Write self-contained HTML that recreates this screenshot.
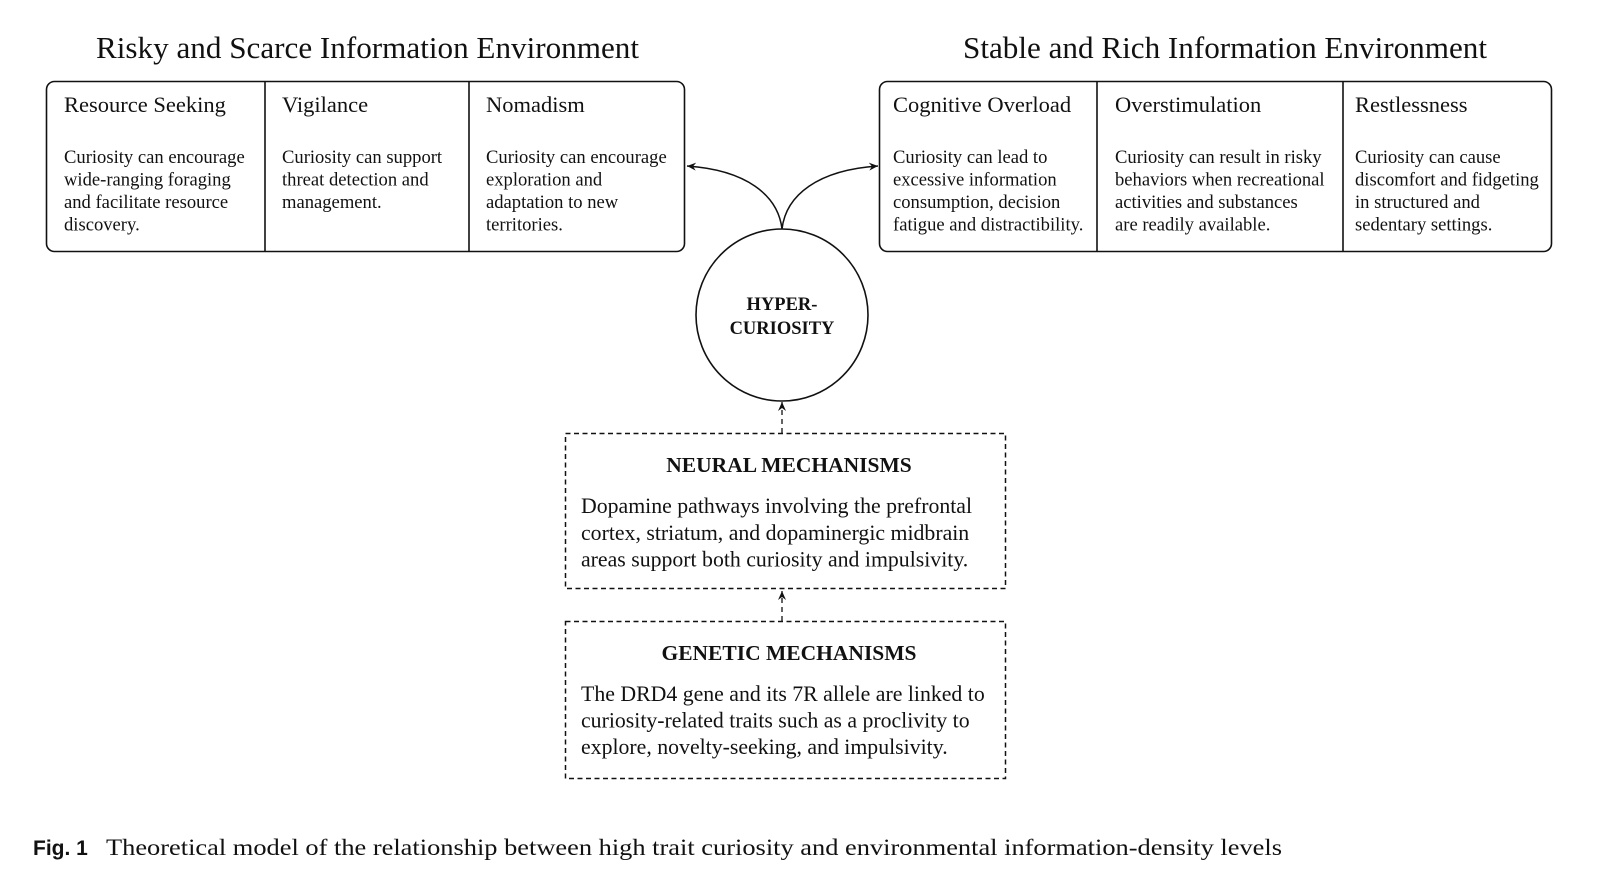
<!DOCTYPE html>
<html><head><meta charset="utf-8"><style>
html,body{margin:0;padding:0;background:#fff;}
svg{display:block;}
text{font-family:"Liberation Serif",serif;fill:#111;}
.h{font-size:22.5px;}
.b{font-size:18.6px;}
.t{font-size:31px;}
.m{font-size:21.8px;}
.mb{font-size:21.5px;font-weight:bold;}
</style></head><body>
<svg width="1600" height="886" viewBox="0 0 1600 886" xmlns="http://www.w3.org/2000/svg">
<defs>
<marker id="ar" markerWidth="10" markerHeight="10" refX="9" refY="5" orient="auto" markerUnits="userSpaceOnUse">
<path d="M0,1 L9,5 L0,9 L3,5 Z" fill="#111"/>
</marker>
</defs>
<text class="t" x="96" y="58" textLength="543" lengthAdjust="spacingAndGlyphs">Risky and Scarce Information Environment</text>
<text class="t" x="963" y="58" textLength="524" lengthAdjust="spacingAndGlyphs">Stable and Rich Information Environment</text>

<rect x="46.5" y="81.5" width="638" height="170" rx="8" fill="none" stroke="#111" stroke-width="1.6"/>
<line x1="265" y1="81" x2="265" y2="252" stroke="#111" stroke-width="1.6"/>
<line x1="469" y1="81" x2="469" y2="252" stroke="#111" stroke-width="1.6"/>
<text class="h" x="64" y="112">Resource Seeking</text>
<text class="h" x="282" y="112">Vigilance</text>
<text class="h" x="486" y="112">Nomadism</text>
<text class="b" x="64" y="163">Curiosity can encourage</text>
<text class="b" x="64" y="185.5">wide-ranging foraging</text>
<text class="b" x="64" y="208">and facilitate resource</text>
<text class="b" x="64" y="230.5">discovery.</text>
<text class="b" x="282" y="163">Curiosity can support</text>
<text class="b" x="282" y="185.5">threat detection and</text>
<text class="b" x="282" y="208">management.</text>
<text class="b" x="486" y="163">Curiosity can encourage</text>
<text class="b" x="486" y="185.5">exploration and</text>
<text class="b" x="486" y="208">adaptation to new</text>
<text class="b" x="486" y="230.5">territories.</text>

<rect x="879.5" y="81.5" width="672" height="170" rx="8" fill="none" stroke="#111" stroke-width="1.6"/>
<line x1="1097" y1="81" x2="1097" y2="252" stroke="#111" stroke-width="1.6"/>
<line x1="1343" y1="81" x2="1343" y2="252" stroke="#111" stroke-width="1.6"/>
<text class="h" x="893" y="112">Cognitive Overload</text>
<text class="h" x="1115" y="112">Overstimulation</text>
<text class="h" x="1355" y="112">Restlessness</text>
<text class="b" x="893" y="163">Curiosity can lead to</text>
<text class="b" x="893" y="185.5">excessive information</text>
<text class="b" x="893" y="208">consumption, decision</text>
<text class="b" x="893" y="230.5">fatigue and distractibility.</text>
<text class="b" x="1115" y="163">Curiosity can result in risky</text>
<text class="b" x="1115" y="185.5">behaviors when recreational</text>
<text class="b" x="1115" y="208">activities and substances</text>
<text class="b" x="1115" y="230.5">are readily available.</text>
<text class="b" x="1355" y="163">Curiosity can cause</text>
<text class="b" x="1355" y="185.5">discomfort and fidgeting</text>
<text class="b" x="1355" y="208">in structured and</text>
<text class="b" x="1355" y="230.5">sedentary settings.</text>

<circle cx="782" cy="315" r="86" fill="none" stroke="#111" stroke-width="1.6"/>
<text x="782" y="310" text-anchor="middle" style="font-size:18.5px;font-weight:bold">HYPER-</text>
<text x="782" y="334" text-anchor="middle" style="font-size:18.5px;font-weight:bold">CURIOSITY</text>

<path d="M782,229 C778,195 746,170 687,166" fill="none" stroke="#111" stroke-width="1.5" marker-end="url(#ar)"/>
<path d="M782,229 C786,195 818,170 878,166" fill="none" stroke="#111" stroke-width="1.5" marker-end="url(#ar)"/>

<line x1="782" y1="433" x2="782" y2="402" stroke="#111" stroke-width="1.3" stroke-dasharray="5,4" marker-end="url(#ar)"/>
<line x1="782" y1="621" x2="782" y2="591" stroke="#111" stroke-width="1.3" stroke-dasharray="5,4" marker-end="url(#ar)"/>

<rect x="565.5" y="433.5" width="440" height="155" fill="none" stroke="#111" stroke-width="1.5" stroke-dasharray="5,3.5"/>
<text class="mb" x="789" y="472" text-anchor="middle">NEURAL MECHANISMS</text>
<text class="m" x="581" y="513">Dopamine pathways involving the prefrontal</text>
<text class="m" x="581" y="540">cortex, striatum, and dopaminergic midbrain</text>
<text class="m" x="581" y="566.5">areas support both curiosity and impulsivity.</text>

<rect x="565.5" y="621.5" width="440" height="157" fill="none" stroke="#111" stroke-width="1.5" stroke-dasharray="5,3.5"/>
<text class="mb" x="789" y="660" text-anchor="middle">GENETIC MECHANISMS</text>
<text class="m" x="581" y="701">The DRD4 gene and its 7R allele are linked to</text>
<text class="m" x="581" y="727.5">curiosity-related traits such as a proclivity to</text>
<text class="m" x="581" y="754">explore, novelty-seeking, and impulsivity.</text>

<text x="33" y="855" style="font-family:'Liberation Sans',sans-serif;font-size:21px;font-weight:bold">Fig. 1</text>
<text x="106" y="855" style="font-size:23px" textLength="1176" lengthAdjust="spacingAndGlyphs">Theoretical model of the relationship between high trait curiosity and environmental information-density levels</text>
</svg>
</body></html>
